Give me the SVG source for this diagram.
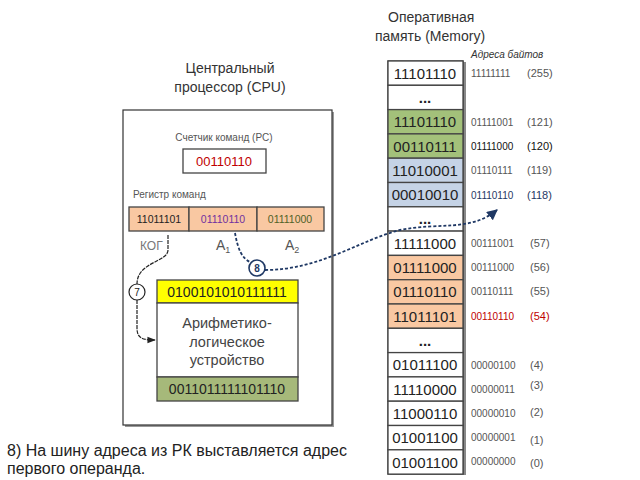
<svg xmlns="http://www.w3.org/2000/svg" width="640" height="480" viewBox="0 0 640 480">
<defs>
<style>
text{font-family:"Liberation Sans",Arial,sans-serif;}
.title{font-size:14px;fill:#333;}
.cell{font-size:15px;fill:#222;text-anchor:middle;}
.addr{font-size:10px;fill:#555;}
.par{font-size:11px;fill:#555;}
.box{stroke:#444;stroke-width:1.3;}
.lbl{font-size:10px;fill:#555;}
.c8{stroke:#1f3864;}
</style>
<marker id="ar7" viewBox="0 0 10 10" refX="9" refY="5" markerWidth="7" markerHeight="7" orient="auto"><path d="M0,1 L10,5 L0,9 z" fill="#222"/></marker>
<marker id="ar8" viewBox="0 0 10 10" refX="9" refY="5" markerWidth="6" markerHeight="6" orient="auto"><path d="M0,0 L10,5 L0,10 z" fill="#1f3864"/></marker>
</defs>
<rect width="640" height="480" fill="#fff"/>

<g id="cpu">
<text class="title" x="230" y="73" text-anchor="middle">Центральный</text>
<text class="title" x="230" y="92" text-anchor="middle">процессор (CPU)</text>
<rect x="125" y="112" width="209" height="315" fill="#999"/>
<rect x="123" y="110" width="209" height="315" fill="#fff" stroke="#333" stroke-width="1.2"/>
</g>

<g id="pc">
<text class="lbl" x="224" y="141" text-anchor="middle">Счетчик команд (PC)</text>
<rect x="183" y="149" width="83" height="24" fill="#fff" class="box"/>
<text x="224" y="166" text-anchor="middle" font-size="13" fill="#c00000">00110110</text>
</g>

<g id="ir">
<text class="lbl" x="133" y="198">Регистр команд</text>
<rect x="129" y="207" width="60" height="24" fill="#f9c8a2" class="box"/>
<rect x="189" y="207" width="68" height="24" fill="#f9c8a2" class="box"/>
<rect x="257" y="207" width="67" height="24" fill="#f9c8a2" class="box"/>
<text x="159" y="223" text-anchor="middle" font-size="10.5" fill="#222">11011101</text>
<text x="223" y="223" text-anchor="middle" font-size="10.5" fill="#7030a0">01110110</text>
<text x="290" y="223" text-anchor="middle" font-size="10.5" fill="#4f6228">01111000</text>
<text x="140" y="250" font-size="12" fill="#777">КОГ</text>
<text x="216" y="250" font-size="14" fill="#555">A<tspan font-size="9" dy="3">1</tspan></text>
<text x="285" y="250" font-size="14" fill="#555">A<tspan font-size="9" dy="3">2</tspan></text>
</g>

<g id="alu">
<rect x="157" y="280" width="141" height="23" fill="#ffff00" class="box"/>
<rect x="157" y="303" width="141" height="74" fill="#fff" class="box"/>
<rect x="157" y="377" width="141" height="24" fill="#a6b97a" class="box"/>
<text x="227" y="297" text-anchor="middle" font-size="14" fill="#222">0100101010111111</text>
<text x="227" y="328" text-anchor="middle" font-size="14.5" fill="#444">Арифметико-</text>
<text x="227" y="347" text-anchor="middle" font-size="14.5" fill="#444">логическое</text>
<text x="227" y="365" text-anchor="middle" font-size="14.5" fill="#444">устройство</text>
<text x="227" y="394" text-anchor="middle" font-size="14" fill="#222">0011011111101110</text>
</g>

<g id="memory">
<text class="title" x="388" y="22">Оперативная</text>
<text class="title" x="375" y="41">память (Memory)</text>
<text x="471" y="58" font-size="10" font-style="italic" fill="#333">Адреса байтов</text>
<rect x="390" y="62" width="76" height="413" fill="#888"/>
<rect x="388" y="61" width="75" height="413" fill="#fff" stroke="#444" stroke-width="1.3"/>
<g class="box">
<rect x="388" y="61" width="75" height="24.3" fill="#fff"/>
<rect x="388" y="85.3" width="75" height="24.3" fill="#fff"/>
<rect x="388" y="109.6" width="75" height="24.3" fill="#a3c17a"/>
<rect x="388" y="133.9" width="75" height="24.3" fill="#a3c17a"/>
<rect x="388" y="158.2" width="75" height="24.3" fill="#c5d3e6"/>
<rect x="388" y="182.5" width="75" height="24.3" fill="#c5d3e6"/>
<rect x="388" y="206.8" width="75" height="24.3" fill="#fff"/>
<rect x="388" y="231.1" width="75" height="24.3" fill="#fff"/>
<rect x="388" y="255.4" width="75" height="24.3" fill="#f9c8a2"/>
<rect x="388" y="279.7" width="75" height="24.3" fill="#f9c8a2"/>
<rect x="388" y="304" width="75" height="24.3" fill="#f9c8a2"/>
<rect x="388" y="328.3" width="75" height="24.3" fill="#fff"/>
<rect x="388" y="352.6" width="75" height="24.3" fill="#fff"/>
<rect x="388" y="376.9" width="75" height="24.3" fill="#fff"/>
<rect x="388" y="401.2" width="75" height="24.3" fill="#fff"/>
<rect x="388" y="425.5" width="75" height="24.3" fill="#fff"/>
<rect x="388" y="449.8" width="75" height="24.3" fill="#fff"/>
</g>
<text class="cell" x="425" y="79">11101110</text>
<text class="cell" x="425" y="103" font-weight="bold">...</text>
<text class="cell" x="425" y="127">11101110</text>
<text class="cell" x="425" y="152">00110111</text>
<text class="cell" x="425" y="176">11010001</text>
<text class="cell" x="425" y="200">00010010</text>
<text class="cell" x="425" y="224" font-weight="bold">...</text>
<text class="cell" x="425" y="249">11111000</text>
<text class="cell" x="425" y="273">01111000</text>
<text class="cell" x="425" y="297">01110110</text>
<text class="cell" x="425" y="322">11011101</text>
<text class="cell" x="425" y="346" font-weight="bold">...</text>
<text class="cell" x="425" y="370">01011100</text>
<text class="cell" x="425" y="395">11110000</text>
<text class="cell" x="425" y="419">11000110</text>
<text class="cell" x="425" y="443">01001100</text>
<text class="cell" x="425" y="468">01001100</text>

<text class="addr" x="471" y="77">11111111</text><text class="par" x="527" y="77">(255)</text>
<text class="addr" x="471" y="126">01111001</text><text class="par" x="527" y="126">(121)</text>
<text class="addr" x="471" y="150" style="fill:#111">01111000</text><text class="par" x="527" y="150" style="fill:#111">(120)</text>
<text class="addr" x="471" y="174">01110111</text><text class="par" x="527" y="174">(119)</text>
<text class="addr" x="471" y="199" style="fill:#1f3864">01110110</text><text class="par" x="527" y="199" style="fill:#1f3864">(118)</text>
<text class="addr" x="471" y="247">00111001</text><text class="par" x="530" y="247">(57)</text>
<text class="addr" x="471" y="271">00111000</text><text class="par" x="530" y="271">(56)</text>
<text class="addr" x="471" y="295">00110111</text><text class="par" x="530" y="295">(55)</text>
<text class="addr" x="471" y="320" style="fill:#c00000">00110110</text><text class="par" x="530" y="320" style="fill:#c00000">(54)</text>
<text class="addr" x="471" y="369">00000100</text><text class="par" x="530" y="369">(4)</text>
<text class="addr" x="471" y="393">00000011</text><text class="par" x="530" y="389">(3)</text>
<text class="addr" x="471" y="417">00000010</text><text class="par" x="530" y="416">(2)</text>
<text class="addr" x="471" y="441">00000001</text><text class="par" x="530" y="444">(1)</text>
<text class="addr" x="471" y="465">00000000</text><text class="par" x="530" y="467">(0)</text>
</g>

<g id="connectors" fill="none">
<path d="M168,235 L168,250 C168,262 137,262 137,284" stroke="#222" stroke-width="1.2" stroke-dasharray="4,1"/>
<path d="M137,300 L137,328 C137,338 142,340 155,340" stroke="#222" stroke-width="1.2" stroke-dasharray="4,1" marker-end="url(#ar7)"/>
<path d="M235,233 C238,250 242,258 250,262" class="c8" stroke-width="1.8" stroke-dasharray="3,2"/>
<path d="M265,270 C320,270 360,240 400,230 C440,222 470,232 497,210" class="c8" stroke-width="1.8" stroke-dasharray="3,2" marker-end="url(#ar8)"/>
</g>

<g id="badge7">
<circle cx="137" cy="292" r="8" fill="#fff" stroke="#222" stroke-width="1.2"/>
<text x="137" y="296" text-anchor="middle" font-size="10" fill="#222">7</text>
</g>
<g id="badge8">
<circle cx="257" cy="268" r="8" fill="#fff" stroke="#1f3864" stroke-width="1.6"/>
<text x="257" y="272" text-anchor="middle" font-size="10" font-weight="bold" fill="#1f3864">8</text>
</g>

<g id="caption">
<text x="7" y="456" font-size="16" fill="#222">8) На шину адреса из РК выставляется адрес</text>
<text x="7" y="474" font-size="16" fill="#222">первого операнда.</text>
</g>
</svg>
